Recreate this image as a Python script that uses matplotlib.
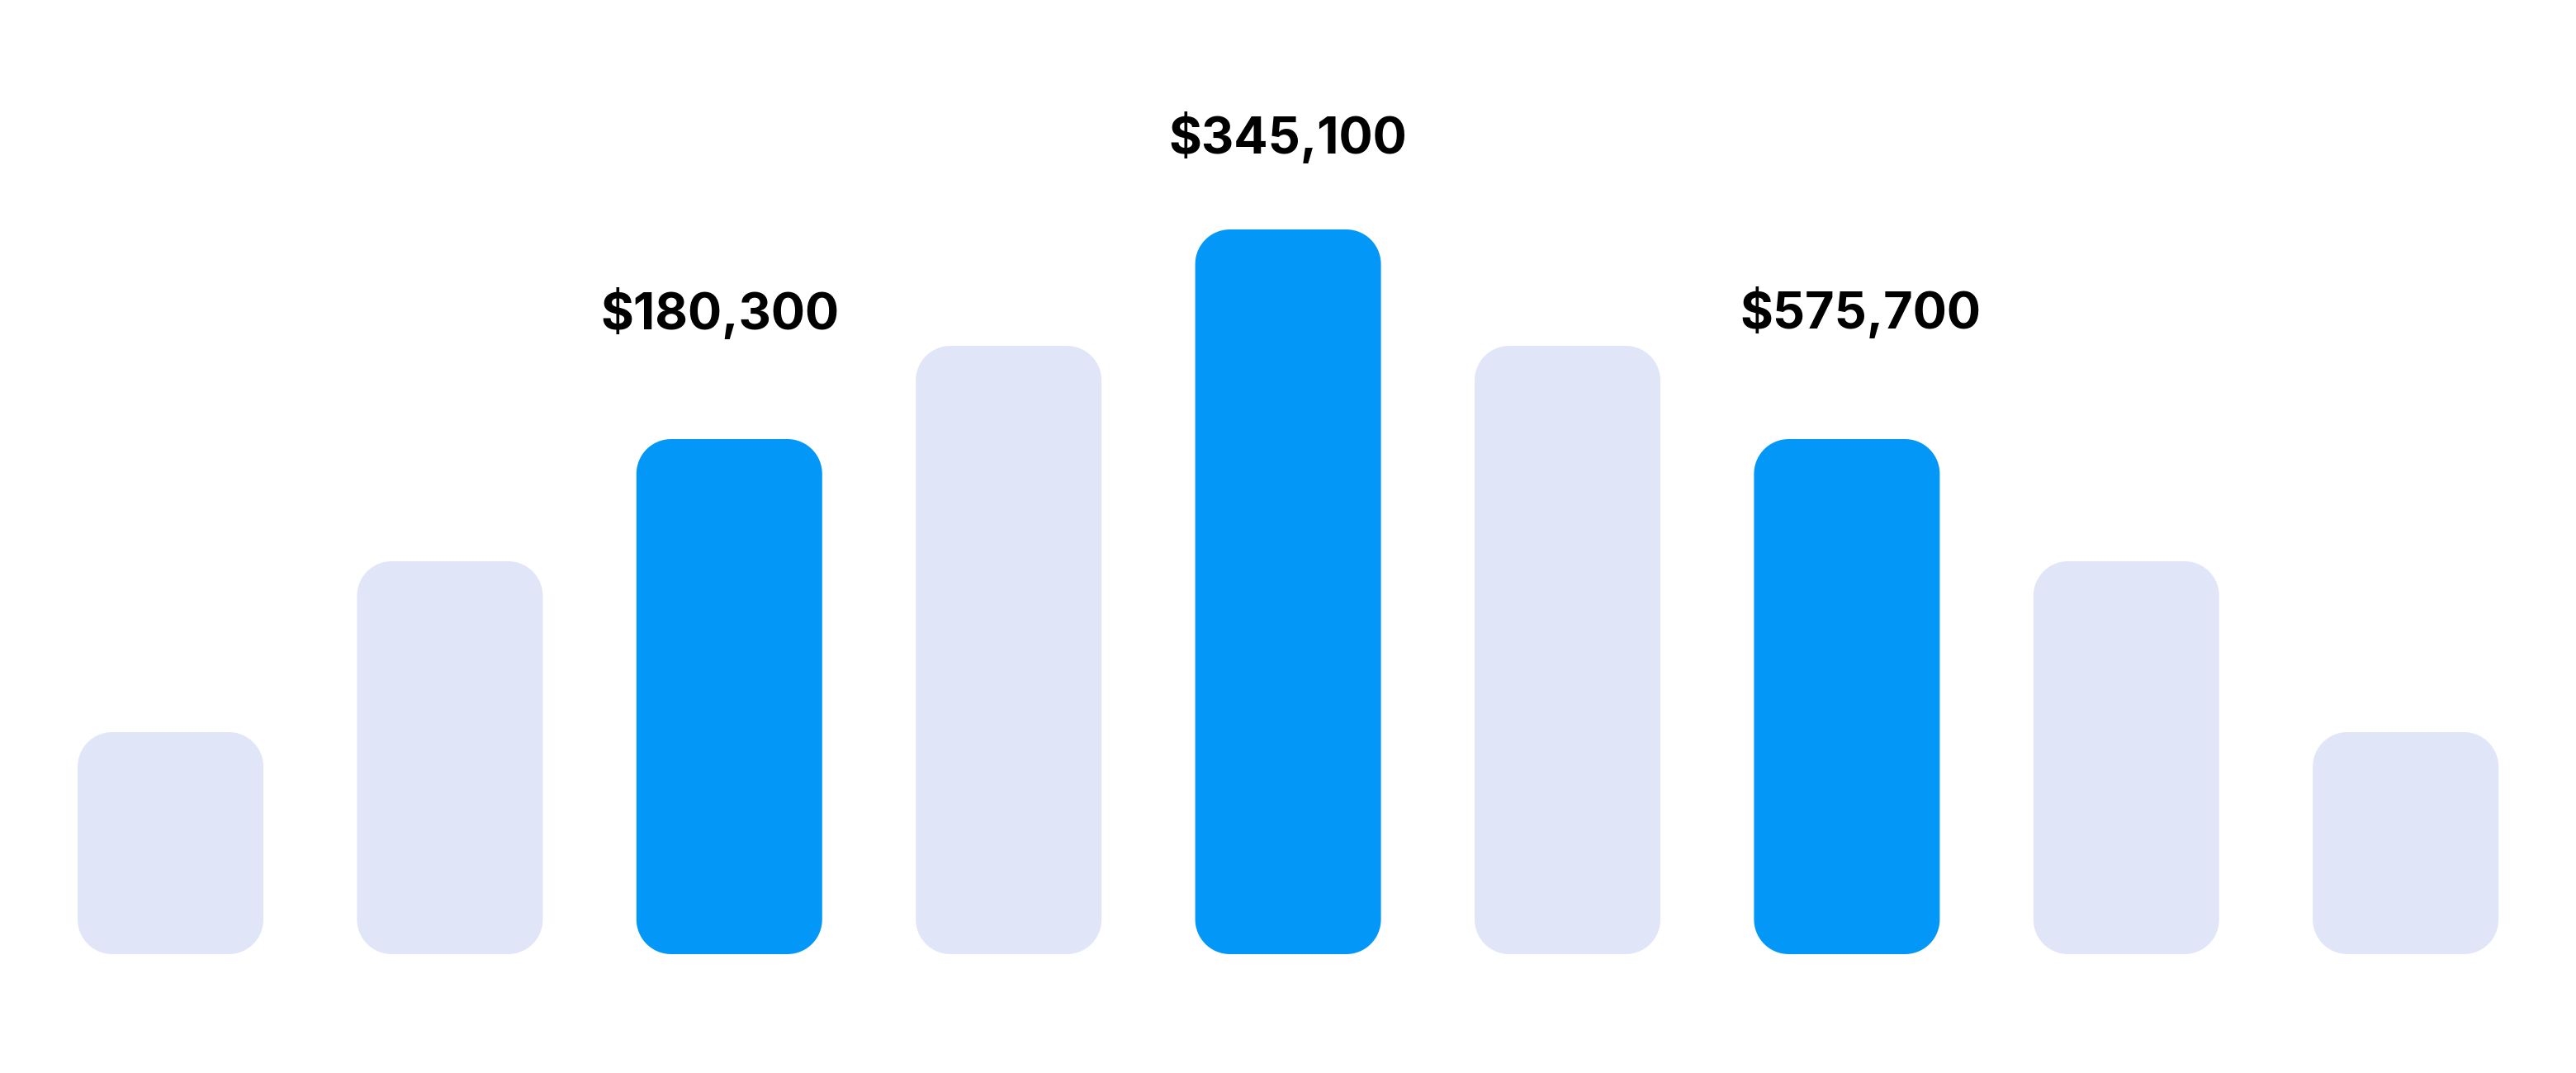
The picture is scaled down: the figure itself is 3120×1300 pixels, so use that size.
import numpy as np
import matplotlib; matplotlib.use("Agg")
import matplotlib.pyplot as plt
from matplotlib.patches import Polygon

# bar heights (arbitrary units) and the three labelled bars
heights = [26.9, 47.6, 62.4, 73.7, 87.8, 73.7, 62.4, 47.6, 26.9]
label_idx = [2, 4, 6]
label_txt = ["$180,300", "$345,100", "$575,700"]
label_off = [(-11, 133), (0, 92), (16, 134)]   # px offset from bar top (style only)

LIGHT, BLUE = "#E0E5F8", "#0398F8"
W, H, DPI = 3120, 1300, 100
SPACING, BAR_W, RAD = 338.4, 225, 42   # px
X0, BASE, YPX = 206.5, 1156, 10.0      # first centre px, baseline px, px per y-unit

def rounded_bar(ax, xc, w, h, rx, ry, color):
    # rectangle with circular-looking corners, radii given separately per axis
    t = np.linspace(0, np.pi/2, 20)
    x0, x1, y0, y1 = xc - w/2, xc + w/2, 0, h
    pts = []
    for cx, cy, a0 in [(x1 - rx, y1 - ry, 0), (x0 + rx, y1 - ry, np.pi/2),
                       (x0 + rx, y0 + ry, np.pi), (x1 - rx, y0 + ry, 1.5*np.pi)]:
        pts += list(zip(cx + rx*np.cos(t + a0), cy + ry*np.sin(t + a0)))
    ax.add_patch(Polygon(pts, closed=True, fc=color, ec="none", lw=0))

fig = plt.figure(figsize=(W/DPI, H/DPI), dpi=DPI)
ax = fig.add_axes([0, 0, 1, 1])
ax.set_xlim(-X0/SPACING, (W - X0)/SPACING)
ax.set_ylim(-(H - BASE)/YPX, BASE/YPX)
ax.axis("off")

for i, h in enumerate(heights):
    c = BLUE if i in label_idx else LIGHT
    rounded_bar(ax, i, BAR_W/SPACING, h, RAD/SPACING, RAD/YPX, c)

for i, t, off in zip(label_idx, label_txt, label_off):
    ax.annotate(t, (i, heights[i]), xytext=off, textcoords="offset pixels",
                ha="center", va="baseline", fontsize=44, fontweight="bold",
                family=["Inter", "DejaVu Sans"], color="black")

fig.savefig("out.png", dpi=DPI, facecolor="white")
